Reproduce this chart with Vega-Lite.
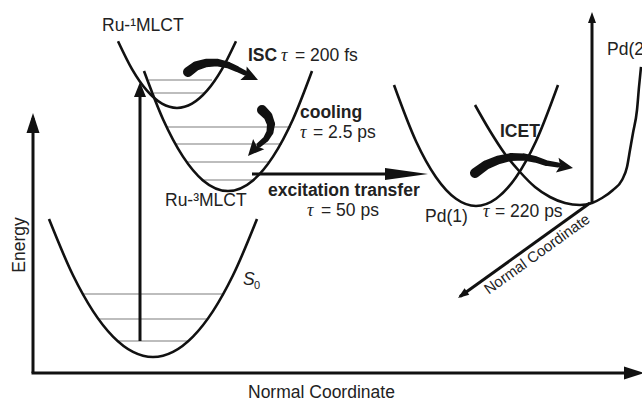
{
  "$schema": "https://vega.github.io/schema/vega-lite/v6.json",
  "width": 642,
  "height": 400,
  "autosize": "none",
  "padding": 0,
  "background": "white",
  "config": {"view": {"stroke": null}},
  "datasets": {
    "curves": [
      {"curve": "S0", "x": 49, "e": 181}, {"curve": "S0", "x": 73, "e": 124.7}, {"curve": "S0", "x": 93, "e": 88.9},
      {"curve": "S0", "x": 113, "e": 63.4}, {"curve": "S0", "x": 133, "e": 48.1}, {"curve": "S0", "x": 153, "e": 43},
      {"curve": "S0", "x": 173, "e": 48.1}, {"curve": "S0", "x": 193, "e": 63.4}, {"curve": "S0", "x": 213, "e": 88.9},
      {"curve": "S0", "x": 233, "e": 124.7}, {"curve": "S0", "x": 257, "e": 181},
      {"curve": "1MLCT", "x": 118, "e": 358.8}, {"curve": "1MLCT", "x": 132, "e": 330.9}, {"curve": "1MLCT", "x": 147, "e": 309.3},
      {"curve": "1MLCT", "x": 162, "e": 296.3}, {"curve": "1MLCT", "x": 177, "e": 292}, {"curve": "1MLCT", "x": 192, "e": 296.3},
      {"curve": "1MLCT", "x": 207, "e": 309.3}, {"curve": "1MLCT", "x": 222, "e": 330.9}, {"curve": "1MLCT", "x": 236, "e": 358.8},
      {"curve": "3MLCT", "x": 144, "e": 329}, {"curve": "3MLCT", "x": 163, "e": 280.8}, {"curve": "3MLCT", "x": 183, "e": 243.4},
      {"curve": "3MLCT", "x": 203, "e": 219.6}, {"curve": "3MLCT", "x": 228, "e": 209}, {"curve": "3MLCT", "x": 253, "e": 219.6},
      {"curve": "3MLCT", "x": 273, "e": 243.4}, {"curve": "3MLCT", "x": 293, "e": 280.8}, {"curve": "3MLCT", "x": 312, "e": 329},
      {"curve": "Pd1", "x": 394, "e": 315}, {"curve": "Pd1", "x": 416, "e": 258.8}, {"curve": "Pd1", "x": 436, "e": 222.8},
      {"curve": "Pd1", "x": 456, "e": 201.2}, {"curve": "Pd1", "x": 476, "e": 194}, {"curve": "Pd1", "x": 496, "e": 201.2},
      {"curve": "Pd1", "x": 516, "e": 222.8}, {"curve": "Pd1", "x": 536, "e": 258.8}, {"curve": "Pd1", "x": 558, "e": 315},
      {"curve": "Pd2", "x": 475, "e": 295}, {"curve": "Pd2", "x": 490, "e": 269}, {"curve": "Pd2", "x": 505, "e": 246},
      {"curve": "Pd2", "x": 520, "e": 228}, {"curve": "Pd2", "x": 535, "e": 213}, {"curve": "Pd2", "x": 550, "e": 203},
      {"curve": "Pd2", "x": 565, "e": 197}, {"curve": "Pd2", "x": 580, "e": 195}, {"curve": "Pd2", "x": 592, "e": 197},
      {"curve": "Pd2", "x": 602, "e": 202}, {"curve": "Pd2", "x": 613, "e": 210}, {"curve": "Pd2", "x": 622, "e": 220},
      {"curve": "Pd2", "x": 627, "e": 233}, {"curve": "Pd2", "x": 630, "e": 250}, {"curve": "Pd2", "x": 633, "e": 267},
      {"curve": "Pd2", "x": 637, "e": 290}, {"curve": "Pd2", "x": 639, "e": 313}, {"curve": "Pd2", "x": 641, "e": 333}
    ],
    "levels": [
      {"x": 83, "x2": 223, "e": 106}, {"x": 98, "x2": 208, "e": 81}, {"x": 118, "x2": 188, "e": 59},
      {"x": 149, "x2": 212, "e": 320}, {"x": 154, "x2": 205, "e": 307},
      {"x": 167, "x2": 291, "e": 273}, {"x": 175, "x2": 282, "e": 256}, {"x": 186, "x2": 270, "e": 238}, {"x": 201, "x2": 253, "e": 220}
    ],
    "shafts": [
      {"kind": "main", "x": 33, "e": 27, "x2": 33, "e2": 282},
      {"kind": "main", "x": 31.5, "e": 27, "x2": 632, "e2": 27},
      {"kind": "pump", "x": 140, "e": 59, "x2": 140, "e2": 304},
      {"kind": "transfer", "x": 252, "e": 226, "x2": 392, "e2": 226},
      {"kind": "pd", "x": 592, "e": 197, "x2": 592, "e2": 379},
      {"kind": "pd", "x": 590, "e": 197, "x2": 460, "e2": 103.5}
    ],
    "heads": [
      {"kind": "main", "x": 33, "e": 287, "heading": 0},
      {"kind": "main", "x": 644, "e": 27, "heading": 90},
      {"kind": "pump", "x": 140, "e": 318, "heading": 0},
      {"kind": "transfer", "x": 428, "e": 226, "heading": 90},
      {"kind": "thin", "x": 592, "e": 388, "heading": 0},
      {"kind": "thin", "x": 458, "e": 102, "heading": 234},
      {"kind": "bend", "x": 258, "e": 320, "heading": 115},
      {"kind": "bend", "x": 248, "e": 244, "heading": 222},
      {"kind": "bend", "x": 573, "e": 232, "heading": 100}
    ],
    "bends": [
      {"arrow": "ISC", "t": 0, "x": 188, "e": 328}, {"arrow": "ISC", "t": 0.17, "x": 196, "e": 334},
      {"arrow": "ISC", "t": 0.33, "x": 206, "e": 337}, {"arrow": "ISC", "t": 0.5, "x": 217, "e": 337.5},
      {"arrow": "ISC", "t": 0.67, "x": 228, "e": 335}, {"arrow": "ISC", "t": 0.83, "x": 237, "e": 331},
      {"arrow": "ISC", "t": 1, "x": 245, "e": 327},
      {"arrow": "cooling", "t": 0, "x": 262, "e": 290}, {"arrow": "cooling", "t": 0.2, "x": 268, "e": 284},
      {"arrow": "cooling", "t": 0.4, "x": 271, "e": 276}, {"arrow": "cooling", "t": 0.6, "x": 270, "e": 268},
      {"arrow": "cooling", "t": 0.8, "x": 266, "e": 261}, {"arrow": "cooling", "t": 1, "x": 259, "e": 255},
      {"arrow": "ICET", "t": 0, "x": 475, "e": 227}, {"arrow": "ICET", "t": 0.14, "x": 486, "e": 235},
      {"arrow": "ICET", "t": 0.29, "x": 498, "e": 240}, {"arrow": "ICET", "t": 0.43, "x": 511, "e": 243},
      {"arrow": "ICET", "t": 0.57, "x": 524, "e": 243}, {"arrow": "ICET", "t": 0.71, "x": 536, "e": 240.5},
      {"arrow": "ICET", "t": 0.86, "x": 546, "e": 237}, {"arrow": "ICET", "t": 1, "x": 558, "e": 235}
    ],
    "states": [
      {"x": 102, "e": 374, "label": "Ru-¹MLCT"},
      {"x": 165, "e": 199, "label": "Ru-³MLCT"},
      {"x": 425, "e": 183, "label": "Pd(1)"},
      {"x": 607, "e": 350, "label": "Pd(2)"}
    ],
    "processes": [
      {"x": 248, "e": 344, "label": "ISC"},
      {"x": 300, "e": 287, "label": "cooling"},
      {"x": 268, "e": 209, "label": "excitation transfer"},
      {"x": 500, "e": 268, "label": "ICET"}
    ],
    "lifetimes": [
      {"tau_x": 281, "x": 295, "e": 344, "label": "= 200 fs"},
      {"tau_x": 300, "x": 313, "e": 267, "label": "= 2.5 ps"},
      {"tau_x": 307, "x": 321, "e": 189, "label": "= 50 ps"},
      {"tau_x": 483, "x": 495, "e": 188, "label": "= 220 ps"}
    ]
  },
  "encoding": {
    "x": {"field": "x", "type": "quantitative", "scale": {"domain": [0, 642], "nice": false, "zero": false}, "axis": null},
    "y": {"field": "e", "type": "quantitative", "scale": {"domain": [0, 400], "nice": false, "zero": false}, "axis": null}
  },
  "layer": [
    {
      "data": {"name": "levels"},
      "mark": {"type": "rule", "color": "#7c7c7c", "strokeWidth": 1.1},
      "encoding": {"x2": {"field": "x2"}}
    },
    {
      "data": {"name": "curves"},
      "mark": {"type": "line", "interpolate": "monotone", "color": "#111111", "strokeWidth": 2.6},
      "encoding": {"detail": {"field": "curve"}}
    },
    {
      "data": {"name": "shafts"},
      "mark": {"type": "rule", "color": "#111111"},
      "encoding": {
        "x2": {"field": "x2"},
        "y2": {"field": "e2"},
        "strokeWidth": {"field": "kind", "type": "ordinal", "scale": {"domain": ["main", "pump", "transfer", "pd"], "range": [3, 3, 6, 1.5]}, "legend": null}
      }
    },
    {
      "data": {"name": "bends"},
      "mark": {"type": "trail", "color": "#111111"},
      "encoding": {
        "detail": {"field": "arrow"},
        "order": {"field": "t", "type": "quantitative"},
        "size": {"field": "t", "type": "quantitative", "scale": {"domain": [0, 1], "range": [10, 5]}, "legend": null}
      }
    },
    {
      "data": {"name": "heads"},
      "mark": {"type": "point", "filled": true, "opacity": 1, "color": "#111111", "strokeWidth": 0, "size": 400},
      "encoding": {
        "shape": {"field": "kind", "type": "nominal", "legend": null, "scale": {
          "domain": ["main", "pump", "transfer", "thin", "bend"],
          "range": ["M0,0L0.65,2L-0.65,2Z", "M0,0L0.6,1.5L-0.6,1.5Z", "M0,0L0.6,4.3L-0.6,4.3Z", "M0,0L0.4,1.1L-0.4,1.1Z", "M0,0L0.75,1.6L0,1.3L-0.75,1.6Z"]}},
        "angle": {"field": "heading", "type": "quantitative", "scale": null}
      }
    },
    {
      "data": {"name": "states"},
      "mark": {"type": "text", "font": "Liberation Sans", "fontSize": 17.5, "align": "left", "baseline": "middle", "color": "#222222"},
      "encoding": {"text": {"field": "label"}}
    },
    {
      "data": {"name": "processes"},
      "mark": {"type": "text", "font": "Liberation Sans", "fontSize": 17.5, "fontWeight": "bold", "align": "left", "baseline": "middle", "color": "#222222"},
      "encoding": {"text": {"field": "label"}}
    },
    {
      "data": {"name": "lifetimes"},
      "mark": {"type": "text", "font": "Liberation Serif", "fontSize": 18, "fontStyle": "italic", "align": "left", "baseline": "middle", "color": "#222222", "text": "τ"},
      "encoding": {"x": {"field": "tau_x", "type": "quantitative"}}
    },
    {
      "data": {"name": "lifetimes"},
      "mark": {"type": "text", "font": "Liberation Sans", "fontSize": 17.5, "align": "left", "baseline": "middle", "color": "#222222"},
      "encoding": {"text": {"field": "label"}}
    },
    {
      "data": {"values": [{"x": 243, "e": 120, "label": "S"}]},
      "mark": {"type": "text", "font": "Liberation Sans", "fontSize": 17.5, "fontStyle": "italic", "align": "left", "baseline": "middle", "color": "#222222"},
      "encoding": {"text": {"field": "label"}}
    },
    {
      "data": {"values": [{"x": 254, "e": 114, "label": "0"}]},
      "mark": {"type": "text", "font": "Liberation Sans", "fontSize": 11, "align": "left", "baseline": "middle", "color": "#222222"},
      "encoding": {"text": {"field": "label"}}
    },
    {
      "data": {"values": [{"x": 248, "e": 7.5, "label": "Normal Coordinate"}]},
      "mark": {"type": "text", "font": "Liberation Sans", "fontSize": 17.5, "align": "left", "baseline": "middle", "color": "#222222"},
      "encoding": {"text": {"field": "label"}}
    },
    {
      "data": {"values": [{"x": 20, "e": 155, "label": "Energy"}]},
      "mark": {"type": "text", "font": "Liberation Sans", "fontSize": 17.5, "align": "center", "baseline": "middle", "angle": 270, "color": "#222222"},
      "encoding": {"text": {"field": "label"}}
    },
    {
      "data": {"values": [{"x": 537, "e": 146, "label": "Normal Coordinate"}]},
      "mark": {"type": "text", "font": "Liberation Sans", "fontSize": 15, "align": "center", "baseline": "middle", "angle": 324.3, "color": "#222222"},
      "encoding": {"text": {"field": "label"}}
    }
  ]
}
